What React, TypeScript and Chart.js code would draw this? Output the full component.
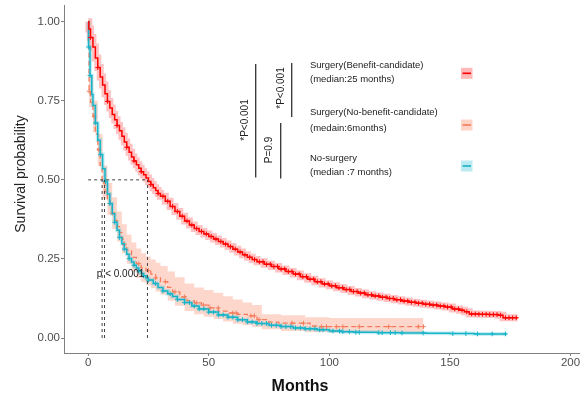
import React, { useEffect, useRef } from "react";
import { Chart, registerables } from "chart.js";

Chart.register(...registerables);

// ---------- Data ----------
// Surgery (Benefit-candidate)
const benefitTimes = [0, 0.3, 1, 2, 3, 4, 5, 6, 7, 8, 9, 10, 11, 12, 13, 14, 15, 16, 17, 18, 19, 20, 21, 22, 23, 24, 25, 26, 27, 28, 29, 30, 32, 34, 36, 38, 40, 42, 44, 46, 48, 50, 52, 54, 56, 58, 60, 62, 64, 66, 68, 70, 73, 76, 79, 82, 85, 88, 91, 94, 97, 100, 103, 106, 109, 112, 115, 118, 121, 124, 127, 130, 133, 136, 139, 142, 145, 148, 151, 154, 156, 158, 162, 166, 170, 172, 178];
const benefitSurv = [1.0, 0.977, 0.95, 0.92, 0.885, 0.855, 0.825, 0.8, 0.772, 0.748, 0.727, 0.707, 0.69, 0.672, 0.655, 0.638, 0.62, 0.603, 0.587, 0.572, 0.56, 0.548, 0.537, 0.526, 0.516, 0.506, 0.495, 0.485, 0.475, 0.466, 0.457, 0.448, 0.432, 0.416, 0.4, 0.385, 0.37, 0.357, 0.346, 0.337, 0.329, 0.321, 0.313, 0.305, 0.297, 0.289, 0.281, 0.272, 0.263, 0.255, 0.248, 0.241, 0.233, 0.226, 0.218, 0.21, 0.202, 0.194, 0.186, 0.178, 0.171, 0.165, 0.159, 0.153, 0.147, 0.142, 0.137, 0.133, 0.129, 0.125, 0.121, 0.117, 0.113, 0.11, 0.107, 0.104, 0.101, 0.098, 0.092, 0.088, 0.083, 0.076, 0.075, 0.074, 0.072, 0.064, 0.064];
const benefitCensor = [1, 4, 8, 12, 16, 19, 22, 26, 29, 31, 33, 35, 37, 39, 41, 43, 45, 47, 49, 51, 53, 55, 57, 59, 61, 63, 65, 67, 69, 71, 72.5, 74, 75.5, 77, 78.5, 80, 81.5, 83, 84.5, 86, 87.5, 89, 90.5, 92, 93.5, 95, 96.5, 98, 99.5, 101, 102.5, 104, 105.5, 107, 108.5, 110, 111.5, 113, 114.5, 116, 117.5, 119, 120.5, 122, 123.5, 125, 126.5, 128, 129.5, 131, 132.5, 134, 135.5, 137, 138.5, 140, 141.5, 143, 144.5, 146, 147.5, 149, 150.5, 152, 153.5, 155, 157, 159, 160.5, 162, 163.5, 165, 166.5, 168, 169.5, 171, 173, 174.5, 176, 177.5];

// Surgery (No-benefit-candidate)
const noBenefitTimes = [0, 0.2, 0.4, 1, 2, 3, 4, 5, 5.8, 7, 8, 9, 10, 11, 12, 13, 14, 15, 16, 18, 20, 22, 24, 26, 28, 30, 33, 35, 38, 41, 44, 47, 50, 54, 58, 62, 66, 70, 75, 79, 92, 96, 139];
const noBenefitSurv = [1.0, 0.93, 0.78, 0.745, 0.7, 0.645, 0.595, 0.545, 0.49, 0.462, 0.44, 0.418, 0.395, 0.372, 0.352, 0.333, 0.313, 0.295, 0.278, 0.255, 0.235, 0.222, 0.213, 0.202, 0.19, 0.178, 0.16, 0.146, 0.13, 0.118, 0.111, 0.104, 0.095, 0.085, 0.079, 0.075, 0.07, 0.058, 0.05, 0.047, 0.038, 0.036, 0.036];
const noBenefitCensor = [0.4, 2.5, 4.5, 10, 15, 21, 25, 28, 32, 36, 40, 45, 47.8, 50.5, 53.9, 60, 61.4, 67.5, 68.9, 70.9, 84.5, 89.3, 96.7, 98.8, 102.9, 105.6, 112.4, 124.6, 136.9, 139];
const noBenefitCiTimes = [0, 0.2, 0.4, 2, 4, 6, 8, 10, 12, 14, 16, 18, 20, 22, 24, 26, 28, 30, 33, 36, 40, 44, 48, 52, 56, 60, 64, 68, 72, 80, 90, 100, 110, 120, 130, 139];
const noBenefitCiUpper = [1.0, 0.96, 0.83, 0.75, 0.645, 0.545, 0.49, 0.445, 0.4, 0.36, 0.327, 0.302, 0.283, 0.268, 0.258, 0.248, 0.238, 0.228, 0.21, 0.192, 0.172, 0.16, 0.152, 0.143, 0.132, 0.122, 0.112, 0.104, 0.075, 0.072, 0.066, 0.063, 0.063, 0.063, 0.063, 0.063];
const noBenefitCiLower = [1.0, 0.9, 0.73, 0.65, 0.545, 0.44, 0.39, 0.345, 0.305, 0.268, 0.235, 0.21, 0.19, 0.177, 0.167, 0.157, 0.147, 0.137, 0.118, 0.102, 0.085, 0.075, 0.067, 0.06, 0.052, 0.045, 0.04, 0.035, 0.028, 0.022, 0.018, 0.017, 0.017, 0.017, 0.017, 0.017];

// No-surgery
const noSurgeryTimes = [0, 0.2, 0.8, 1.5, 2, 3, 4, 5, 6, 7, 8, 9, 10, 11, 12, 13, 14, 15, 16, 17, 18, 19, 20, 21, 22, 23, 24, 25, 27, 29, 31, 33, 35, 37, 40, 43, 46, 50, 54, 58, 62, 66, 70, 75, 80, 85, 90, 95, 100, 105, 110, 120, 130, 140, 150, 160, 173.5];
const noSurgerySurv = [1.0, 0.92, 0.83, 0.77, 0.735, 0.68, 0.625, 0.58, 0.535, 0.495, 0.455, 0.425, 0.393, 0.366, 0.341, 0.318, 0.298, 0.281, 0.265, 0.251, 0.24, 0.23, 0.221, 0.212, 0.204, 0.197, 0.19, 0.183, 0.172, 0.16, 0.149, 0.14, 0.131, 0.122, 0.112, 0.101, 0.092, 0.082, 0.073, 0.066, 0.058, 0.051, 0.046, 0.04, 0.036, 0.032, 0.029, 0.026, 0.022, 0.02, 0.018, 0.017, 0.016, 0.015, 0.014, 0.013, 0.013];
const noSurgeryCensor = [0.2, 0.8, 3, 5.2, 7.2, 9, 11, 13, 15, 17, 19, 21, 23, 25, 28, 31, 34, 37, 40, 42, 44, 46, 48, 50, 52, 54, 56, 58, 60, 62, 64, 66, 68, 70, 72, 74, 76, 78, 80, 82, 84, 86, 88, 90, 92, 94, 96, 97.4, 101.5, 104.2, 105.6, 108.3, 111, 112.4, 120.5, 121.9, 125.3, 127.3, 130.1, 138.9, 151.2, 156.6, 161.4, 167.5, 173];

// Medians (months) drawn as dashed guides at survival 0.5
const medianTimes = [24.6, 5.8, 6.8];
const medianLevel = 0.5;

const xTicks = [0, 50, 100, 150, 200];
const yTicks = [0, 0.25, 0.5, 0.75, 1.0];

const legendNames = ["Surgery(Benefit-candidate)", "Surgery(No-benefit-candidate)", "No-surgery"];
const legendMedians = ["(median:25 months)", "(medain:6months)", "(median :7 months)"];
const pLong = "*P<0.001";
const pTop = "*P<0.001";
const pBottom = "P=0.9";
const pOverall = "p < 0.0001";
const xTitle = "Months";
const yTitle = "Survival probability";

// ---------- Styling ----------
const RED = "#ff0000";
const RED_BAND = "rgba(255, 40, 40, 0.28)";
const ORANGE = "#f47c5c";
const ORANGE_BAND = "rgba(250, 150, 120, 0.38)";
const CYAN = "#16b4c9";
const CYAN_BAND = "rgba(40, 190, 210, 0.25)";
const FONT = "'Liberation Sans', Arial, Helvetica, sans-serif";

function toPoints(ts: number[], ss: number[]) {
  return ts.map((t, i) => ({ x: t, y: ss[i] }));
}
function survAt(ts: number[], ss: number[], t: number) {
  let v = ss[0];
  for (let i = 0; i < ts.length; i++) {
    if (ts[i] <= t) v = ss[i];
    else break;
  }
  return v;
}
function censorPoints(ts: number[], ss: number[], cs: number[]) {
  return cs.map((c) => ({ x: c, y: survAt(ts, ss, c) }));
}

const overlayPlugin = {
  id: "kmOverlay",
  afterDraw(chart: any) {
    const ctx: CanvasRenderingContext2D = chart.ctx;
    const xs = chart.scales.x;
    const ys = chart.scales.y;
    ctx.save();

    // Axis titles
    ctx.fillStyle = "#222";
    ctx.textAlign = "center";
    ctx.textBaseline = "middle";
    ctx.save();
    ctx.font = `14px ${FONT}`;
    ctx.translate(21, 174);
    ctx.rotate(-Math.PI / 2);
    ctx.fillText(yTitle, 0, 0);
    ctx.restore();
    ctx.font = `bold 16px ${FONT}`;
    ctx.fillStyle = "#111";
    ctx.fillText(xTitle, 300, 387);

    // overall p value
    ctx.font = `10px ${FONT}`;
    ctx.fillStyle = "#222";
    ctx.textAlign = "left";
    ctx.fillText(pOverall, xs.getPixelForValue(3.6), ys.getPixelForValue(0.2));

    // bracket lines
    ctx.strokeStyle = "#333";
    ctx.lineWidth = 1.3;
    const vline = (x: number, y1: number, y2: number) => {
      ctx.beginPath();
      ctx.moveTo(x, y1);
      ctx.lineTo(x, y2);
      ctx.stroke();
    };
    vline(255.7, 64, 177.5);
    vline(291.7, 63, 117);
    vline(280.7, 123, 178.5);

    const rotText = (s: string, x: number, y: number) => {
      ctx.save();
      ctx.translate(x, y);
      ctx.rotate(-Math.PI / 2);
      ctx.textAlign = "center";
      ctx.textBaseline = "middle";
      ctx.fillText(s, 0, 0);
      ctx.restore();
    };
    ctx.font = `10px ${FONT}`;
    ctx.fillStyle = "#222";
    rotText(pLong, 245, 120);
    rotText(pTop, 281.5, 88);
    rotText(pBottom, 269.5, 150);

    // legend texts
    ctx.font = `9.5px ${FONT}`;
    ctx.textAlign = "left";
    ctx.textBaseline = "middle";
    const nameY = [65, 112.7, 158.3];
    const medY = [79.5, 128.3, 172.7];
    legendNames.forEach((n, i) => ctx.fillText(n, 310, nameY[i]));
    legendMedians.forEach((n, i) => ctx.fillText(n, 310, medY[i]));

    // legend keys
    const keyY = [73.3, 125, 166];
    const keyFill = ["rgba(255,80,80,0.4)", "rgba(250,160,130,0.45)", "rgba(60,195,215,0.35)"];
    const keyLine = [RED, ORANGE, CYAN];
    keyY.forEach((cy, i) => {
      ctx.fillStyle = keyFill[i];
      ctx.fillRect(461, cy - 5.5, 11.5, 11);
      ctx.strokeStyle = keyLine[i];
      ctx.lineWidth = 1.6;
      ctx.beginPath();
      ctx.moveTo(462.5, cy);
      ctx.lineTo(471, cy);
      ctx.stroke();
    });

    ctx.restore();
  },
};

export default function App() {
  const ref = useRef<HTMLCanvasElement | null>(null);

  useEffect(() => {
    const canvas = ref.current;
    if (!canvas) return;

    const stepLine = (data: any[], color: string, width: number, order: number, dash: number[] = []) => ({
      data,
      borderColor: color,
      borderWidth: width,
      borderDash: dash,
      stepped: true,
      pointRadius: 0,
      fill: false,
      order,
      borderCapStyle: "butt",
    });
    const censor = (data: any[], color: string, order: number) => ({
      data,
      showLine: false,
      pointStyle: "cross",
      pointRadius: 2.4,
      pointBorderWidth: 1,
      pointBorderColor: color,
      borderColor: color,
      order,
    });

    const datasets: any[] = [];
    // 0: orange band lower
    datasets.push({
      data: toPoints(noBenefitCiTimes, noBenefitCiLower),
      borderWidth: 0,
      borderColor: "rgba(0,0,0,0)",
      stepped: true,
      pointRadius: 0,
      fill: false,
      order: 20,
    });
    // 1: orange band upper, filled to lower
    datasets.push({
      data: toPoints(noBenefitCiTimes, noBenefitCiUpper),
      borderWidth: 0,
      borderColor: "rgba(0,0,0,0)",
      backgroundColor: ORANGE_BAND,
      stepped: true,
      pointRadius: 0,
      fill: { target: 0 },
      order: 19,
    });
    datasets.push(stepLine(toPoints(noSurgeryTimes, noSurgerySurv), CYAN_BAND, 4, 18));
    datasets.push(stepLine(toPoints(benefitTimes, benefitSurv), RED_BAND, 7, 17));
    datasets.push(stepLine(toPoints(noBenefitTimes, noBenefitSurv), ORANGE, 1.3, 10, [5, 3]));
    datasets.push(censor(censorPoints(noBenefitTimes, noBenefitSurv, noBenefitCensor), ORANGE, 9));
    datasets.push(stepLine(toPoints(noSurgeryTimes, noSurgerySurv), CYAN, 1.5, 8));
    datasets.push(censor(censorPoints(noSurgeryTimes, noSurgerySurv, noSurgeryCensor), CYAN, 7));
    datasets.push(stepLine(toPoints(benefitTimes, benefitSurv), RED, 1.5, 6));
    datasets.push(censor(censorPoints(benefitTimes, benefitSurv, benefitCensor), RED, 5));

    // median guides
    const maxMed = Math.max(...medianTimes);
    const guide = (data: any[]) => ({
      data,
      borderColor: "#444",
      borderWidth: 1,
      borderDash: [3, 3],
      pointRadius: 0,
      fill: false,
      order: 1,
    });
    datasets.push(guide([{ x: 0, y: medianLevel }, { x: maxMed, y: medianLevel }]));
    medianTimes.forEach((m) => datasets.push(guide([{ x: m, y: 0 }, { x: m, y: medianLevel }])));

    const axisColor = "#808080";
    const chart = new Chart(canvas, {
      type: "line",
      data: { datasets },
      options: {
        responsive: false,
        animation: false,
        events: [],
        layout: { padding: { top: 5, right: 0, left: 0, bottom: 0 } },
        plugins: {
          legend: { display: false },
          tooltip: { enabled: false },
        },
        scales: {
          x: {
            type: "linear",
            min: -10,
            max: 203.5,
            afterBuildTicks: (s: any) => {
              s.ticks = xTicks.map((v) => ({ value: v }));
            },
            afterFit: (s: any) => {
              s.height = 42;
              s.paddingLeft = 0;
              s.paddingRight = 0;
            },
            grid: { display: true, drawOnChartArea: false, drawTicks: true, tickLength: 3, color: axisColor },
            border: { display: true, color: axisColor, width: 1 },
            ticks: {
              color: "#4d4d4d",
              font: { size: 11.5, family: FONT },
              padding: 0,
              maxRotation: 0,
              autoSkip: false,
            },
          },
          y: {
            type: "linear",
            min: -0.0474,
            max: 1.0528,
            afterBuildTicks: (s: any) => {
              s.ticks = yTicks.map((v) => ({ value: v }));
            },
            afterFit: (s: any) => {
              s.width = 64;
              s.paddingTop = 0;
              s.paddingBottom = 0;
            },
            grid: { display: true, drawOnChartArea: false, drawTicks: true, tickLength: 3, color: axisColor },
            border: { display: true, color: axisColor, width: 1 },
            ticks: {
              color: "#4d4d4d",
              font: { size: 11.5, family: FONT },
              padding: 1,
              callback: (v: any) => Number(v).toFixed(2),
            },
          },
        },
      } as any,
      plugins: [overlayPlugin as any],
    });

    return () => chart.destroy();
  }, []);

  return (
    <div style={{ position: "fixed", left: 0, top: 0, width: 584, height: 395, background: "#fff" }}>
      <canvas ref={ref} width={584} height={395} style={{ display: "block", width: 584, height: 395 }} />
    </div>
  );
}
